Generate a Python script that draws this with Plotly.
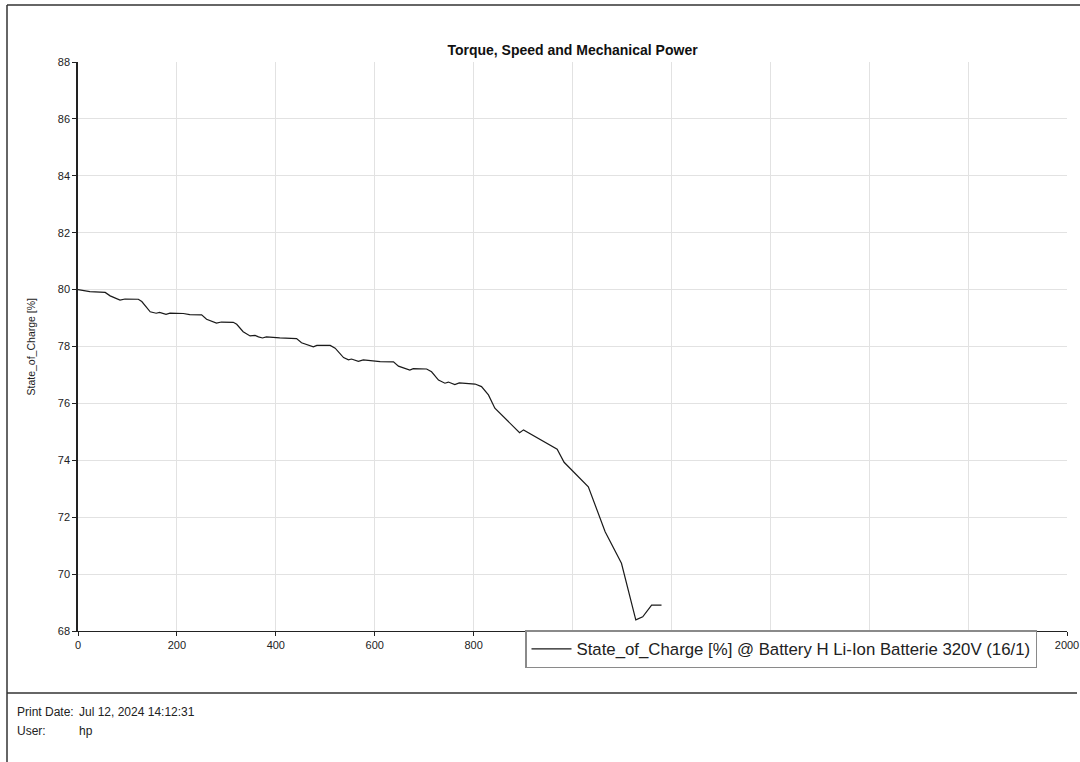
import plotly.graph_objects as go

# Data
time_s = [0, 24, 55, 65, 85, 95, 122, 129, 146, 158, 165, 178, 186, 213, 226, 250,
          260, 280, 290, 314, 321, 334, 348, 358, 365, 373, 381, 408, 442, 452, 476,
          483, 510, 520, 537, 547, 553, 567, 577, 597, 611, 638, 648, 671, 678, 705,
          715, 729, 742, 749, 762, 771, 803, 816, 830, 843, 893, 901, 969, 983, 1032,
          1066, 1099, 1128, 1142, 1160, 1180]
soc = [80.0, 79.93, 79.9, 79.78, 79.63, 79.67, 79.66, 79.58, 79.22, 79.17, 79.2, 79.13,
       79.17, 79.16, 79.12, 79.11, 78.96, 78.82, 78.86, 78.85, 78.78, 78.52, 78.37, 78.39,
       78.34, 78.30, 78.34, 78.3, 78.28, 78.13, 77.99, 78.04, 78.04, 77.94, 77.61, 77.53,
       77.56, 77.48, 77.53, 77.5, 77.47, 77.46, 77.31, 77.17, 77.22, 77.21, 77.11, 76.82,
       76.71, 76.75, 76.66, 76.72, 76.68, 76.59, 76.30, 75.83, 74.97, 75.07, 74.39, 73.93,
       73.07, 71.49, 70.38, 68.39, 68.5, 68.91, 68.91]

x_ticks = [0, 200, 400, 600, 800, 1000, 1200, 1400, 1600, 1800, 2000]
# labels 1000-1800 are hidden behind the legend box in the reference
x_tick_labels = ["0", "200", "400", "600", "800", "", "", "", "", "", "2000"]
y_ticks = [68, 70, 72, 74, 76, 78, 80, 82, 84, 86, 88]
y_tick_labels = ["68", "70", "72", "74", "76", "78", "80", "82", "84", "86", "88"]

title_text = "Torque, Speed and Mechanical Power"
y_title = "State_of_Charge [%]"
series_name = "State_of_Charge [%] @ Battery H Li-Ion Batterie 320V (16/1)"

W, H = 1080, 762
L, R, T, B = 78, 1067, 62, 631


def px(xp):
    return (xp - L) / (R - L)


def py(yp):
    return (B - yp) / (B - T)


fig = go.Figure()
fig.add_trace(go.Scatter(
    x=time_s, y=soc, mode="lines", name=series_name,
    line=dict(color="#1a1a1a", width=1.2),
    showlegend=True,
))

tickfont = dict(family="Liberation Sans, Arial, sans-serif", size=11, color="#222")

fig.update_layout(
    width=W, height=H,
    margin=dict(l=L, r=W - R, t=T, b=H - B, pad=0, autoexpand=False),
    paper_bgcolor="white", plot_bgcolor="white",
    title=dict(text="<b>" + title_text + "</b>", x=0.5, xref="paper",
               y=1 - 50 / H, yref="container", yanchor="middle", xanchor="center",
               font=dict(family="Liberation Sans, Arial, sans-serif", size=14, color="#111")),
    xaxis=dict(range=[0, 2000], tickvals=x_ticks, ticktext=x_tick_labels,
               showgrid=True, gridcolor="#e2e2e2", gridwidth=1,
               showline=True, linecolor="#222", linewidth=1,
               ticks="outside", ticklen=4, tickcolor="#222", tickfont=tickfont,
               zeroline=False, fixedrange=True, automargin=False),
    yaxis=dict(range=[68, 88], tickvals=y_ticks, ticktext=y_tick_labels,
               showgrid=True, gridcolor="#e2e2e2", gridwidth=1,
               showline=True, linecolor="#222", linewidth=1.5,
               ticks="outside", ticklen=4, tickcolor="#222", tickfont=tickfont,
               zeroline=False, fixedrange=True, automargin=False),
    legend=dict(x=px(525), y=py(630), xanchor="left", yanchor="top",
                bgcolor="white", bordercolor="#8a8a8a", borderwidth=1.5,
                font=dict(family="Liberation Sans, Arial, sans-serif", size=16.8, color="#222"),
                itemwidth=40),
    showlegend=True,
)

# Y-axis title
fig.add_annotation(text=y_title, xref="paper", yref="paper", x=px(30), y=0.5,
                   textangle=-90, showarrow=False, xanchor="center", yanchor="middle",
                   font=dict(family="Liberation Sans, Arial, sans-serif", size=10.5, color="#222"))

# Footer texts
footer_font = dict(family="Liberation Sans, Arial, sans-serif", size=12, color="#222")
for txt, xx, yy in [("Print Date:", 15, 712), ("Jul 12, 2024 14:12:31", 77, 712),
                    ("User:", 15, 731), ("hp", 77, 731)]:
    fig.add_annotation(text=txt, xref="paper", yref="paper", x=px(xx), y=py(yy),
                       showarrow=False, xanchor="left", yanchor="middle", font=footer_font)

# Frame lines (page border and footer separator)
frame = dict(color="#333", width=1.5)
fig.add_shape(type="line", xref="paper", yref="paper", x0=px(7), x1=px(1085),
              y0=py(5), y1=py(5), line=frame)
fig.add_shape(type="line", xref="paper", yref="paper", x0=px(7), x1=px(7),
              y0=py(5), y1=py(770), line=frame)
fig.add_shape(type="line", xref="paper", yref="paper", x0=px(7), x1=px(1077),
              y0=py(693), y1=py(693), line=frame)

fig.write_html("out.html", config={"displayModeBar": False},
               post_script="document.body.style.margin='0';document.body.style.overflow='hidden';")
